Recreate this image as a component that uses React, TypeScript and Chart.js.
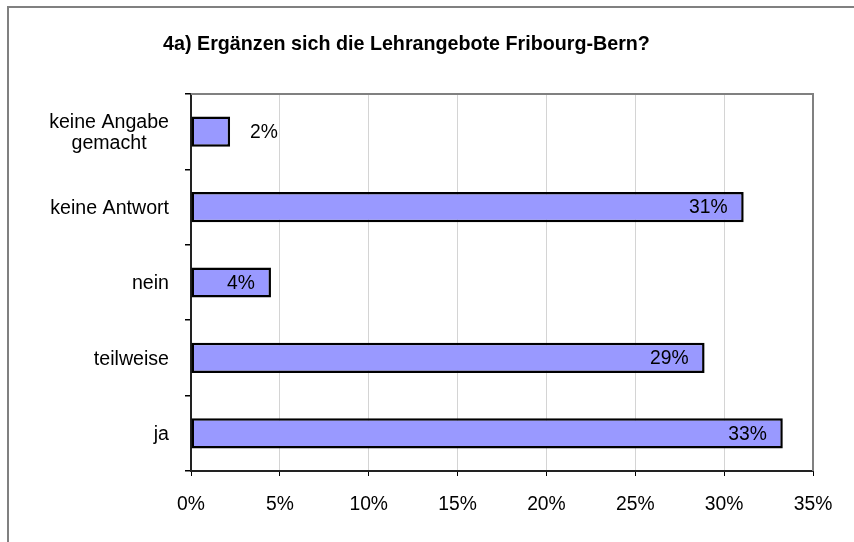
import React, { useEffect, useRef } from 'react';
import { Chart, registerables } from 'chart.js';

Chart.register(...registerables);

const title = '4a) Ergänzen sich die Lehrangebote Fribourg-Bern?';
const categories: (string | string[])[] = [['keine Angabe', 'gemacht'], 'keine Antwort', 'nein', 'teilweise', 'ja'];
const values = [2.2, 31.1, 4.5, 28.9, 33.3];
const valueLabels = ['2%', '31%', '4%', '29%', '33%'];
const xMin = 0;
const xMax = 35;
const xStep = 5;

const FONT = '"Liberation Sans", Arial, sans-serif';

const drawPlugin = {
  id: 'customDraw',
  beforeDraw(chart: any) {
    const ctx = chart.ctx;
    ctx.save();
    ctx.fillStyle = '#ffffff';
    ctx.fillRect(0, 0, chart.width, chart.height);
    ctx.strokeStyle = '#808080';
    ctx.lineWidth = 2;
    ctx.beginPath();
    ctx.moveTo(8, chart.height);
    ctx.lineTo(8, 7);
    ctx.lineTo(chart.width, 7);
    ctx.stroke();
    ctx.restore();
  },
  afterDraw(chart: any) {
    const ctx = chart.ctx;
    const area = chart.chartArea;
    ctx.save();
    ctx.strokeStyle = '#808080';
    ctx.lineWidth = 2;
    ctx.beginPath();
    ctx.moveTo(area.left, area.top);
    ctx.lineTo(area.right, area.top);
    ctx.lineTo(area.right, area.bottom);
    ctx.stroke();

    ctx.fillStyle = '#000';
    ctx.font = `bold 19.7px ${FONT}`;
    ctx.textAlign = 'center';
    ctx.textBaseline = 'middle';
    ctx.fillText(title, 406.5, 45);

    const yScale = chart.scales.y;
    ctx.font = `19.6px ${FONT}`;
    const rightEdge = 169;
    const lh = 21.5;
    categories.forEach((c, i) => {
      const yc = yScale.getPixelForValue(i) + 1.5;
      if (Array.isArray(c)) {
        const widest = Math.max(...c.map((s) => ctx.measureText(s).width));
        const cx = rightEdge - widest / 2;
        ctx.textAlign = 'center';
        c.forEach((line, j) => {
          ctx.fillText(line, cx, yc + (j - (c.length - 1) / 2) * lh);
        });
      } else {
        ctx.textAlign = 'right';
        ctx.fillText(c, rightEdge, yc);
      }
    });

    ctx.font = `19.3px ${FONT}`;
    const meta = chart.getDatasetMeta(0);
    meta.data.forEach((el: any, i: number) => {
      if (values[i] < 3) {
        ctx.textAlign = 'left';
        ctx.fillText(valueLabels[i], el.x + 20, el.y + 1);
      } else {
        ctx.textAlign = 'right';
        ctx.fillText(valueLabels[i], el.x - 16, el.y + 1);
      }
    });
    ctx.restore();
  },
};

export default function App() {
  const ref = useRef<HTMLCanvasElement>(null);
  useEffect(() => {
    if (!ref.current) return;
    const chart = new Chart(ref.current, {
      type: 'bar',
      data: {
        labels: categories as any,
        datasets: [
          {
            data: values,
            backgroundColor: '#9999FF',
            borderColor: '#000000',
            borderWidth: 2.5,
            borderSkipped: false,
            barPercentage: 0.4,
            categoryPercentage: 1,
          },
        ],
      },
      options: {
        indexAxis: 'y',
        animation: false,
        responsive: false,
        maintainAspectRatio: false,
        layout: { padding: { left: 0, top: 94, right: 41, bottom: 0 } },
        plugins: { legend: { display: false }, tooltip: { enabled: false }, title: { display: false } },
        scales: {
          x: {
            min: xMin,
            max: xMax,
            afterFit: (s: any) => {
              s.height = 71;
            },
            ticks: {
              stepSize: xStep,
              callback: (v: any) => `${v}%`,
              color: '#000',
              font: { family: FONT, size: 19.3 },
              padding: 17,
              maxRotation: 0,
            },
            grid: {
              color: '#d4d4d4',
              lineWidth: 1,
              tickColor: '#000',
              tickLength: 5,
              drawOnChartArea: true,
            },
            border: { display: true, color: '#222', width: 2 },
          },
          y: {
            afterFit: (s: any) => {
              s.width = 191;
            },
            ticks: { color: 'rgba(0,0,0,0)', font: { family: FONT, size: 19 } },
            grid: {
              drawOnChartArea: false,
              drawTicks: true,
              tickLength: 6,
              tickColor: '#000',
              color: '#000',
              lineWidth: 1.5,
              offset: true,
            },
            border: { display: true, color: '#222', width: 2 },
          },
        },
      },
      plugins: [drawPlugin],
    });
    return () => chart.destroy();
  }, []);
  return (
    <div style={{ position: 'absolute', left: 0, top: 0, width: 854, height: 542 }}>
      <canvas ref={ref} width={854} height={542} style={{ display: 'block' }} />
    </div>
  );
}
